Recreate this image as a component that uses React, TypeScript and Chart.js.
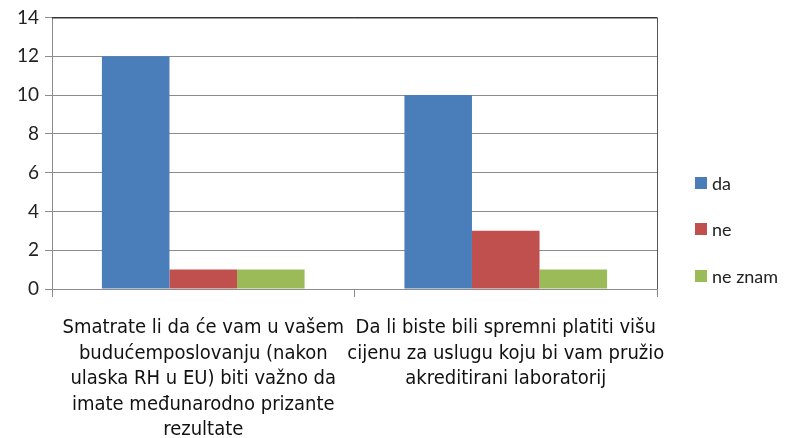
import React, { useEffect, useRef } from "react";
import { Chart, registerables } from "chart.js";

Chart.register(...registerables);

const categories: string[][] = [
  [
    "Smatrate li da će vam u vašem",
    "budućemposlovanju (nakon",
    "ulaska RH u EU) biti važno da",
    "imate međunarodno prizante",
    "rezultate",
  ],
  [
    "Da li biste bili spremni platiti višu",
    "cijenu za uslugu koju bi vam pružio",
    "akreditirani laboratorij",
  ],
];
const seriesNames = ["da", "ne", "ne znam"];
const daValues = [12, 10];
const neValues = [1, 3];
const neZnamValues = [1, 1];
const colors = ["#4A7EBB", "#C0504D", "#9BBB59"];

const frameAndLegend = {
  id: "frameAndLegend",
  afterDraw(chart: any) {
    const { ctx, chartArea } = chart;
    ctx.save();
    ctx.strokeStyle = "#000000";
    ctx.lineWidth = 1;
    ctx.beginPath();
    ctx.moveTo(chartArea.left, chartArea.top + 0.5);
    ctx.lineTo(chartArea.right, chartArea.top + 0.5);
    ctx.stroke();
    ctx.strokeStyle = "#555555";
    ctx.beginPath();
    ctx.moveTo(chartArea.right + 0.5, chartArea.top);
    ctx.lineTo(chartArea.right + 0.5, chartArea.bottom);
    ctx.stroke();
    const ys = [183, 229, 276];
    chart.data.datasets.forEach((ds: any, i: number) => {
      ctx.fillStyle = ds.backgroundColor;
      ctx.fillRect(695, ys[i] - 6, 12, 12);
      ctx.fillStyle = "#222222";
      ctx.font = "18px Lato, 'Open Sans', sans-serif";
      ctx.textBaseline = "middle";
      ctx.textAlign = "left";
      ctx.fillText(ds.label, 712, ys[i] + 1);
    });
    ctx.restore();
  },
};

export default function App() {
  const ref = useRef<HTMLCanvasElement | null>(null);
  useEffect(() => {
    if (!ref.current) return;
    const chart = new Chart(ref.current, {
      type: "bar",
      data: {
        labels: categories,
        datasets: [daValues, neValues, neZnamValues].map((d, i) => ({
          label: seriesNames[i],
          data: d,
          backgroundColor: colors[i],
          borderWidth: 0,
          categoryPercentage: 0.67,
          barPercentage: 1,
        })),
      },
      options: {
        animation: false,
        responsive: false,
        maintainAspectRatio: false,
        layout: { padding: { top: 17, right: 139, left: 0, bottom: 0 } },
        plugins: {
          legend: { display: false },
          tooltip: { enabled: false },
        },
        scales: {
          x: {
            grid: {
              drawOnChartArea: false,
              drawTicks: true,
              tickLength: 8,
              color: "#8c8c8c",
            },
            border: { color: "#8c8c8c" },
            ticks: {
              color: "#111111",
              font: { family: "'Liberation Sans Narrow', 'DejaVu Sans Condensed', sans-serif", size: 20, lineHeight: 1.28 },
              padding: 18,
              maxRotation: 0,
              autoSkip: false,
            },
            afterFit(scale: any) {
              scale.height = 149;
            },
          },
          y: {
            min: 0,
            max: 14,
            ticks: {
              stepSize: 2,
              color: "#222222",
              font: { family: "Lato, 'Open Sans', sans-serif", size: 19 },
              padding: 6,
            },
            grid: {
              color: "#8c8c8c",
              tickLength: 7,
            },
            border: { color: "#8c8c8c" },
            afterFit(scale: any) {
              scale.width = 52;
            },
          },
        },
      },
      plugins: [frameAndLegend],
    });
    return () => chart.destroy();
  }, []);
  return (
    <div style={{ position: "fixed", left: 0, top: 0, width: 796, height: 438, background: "#fff" }}>
      <canvas ref={ref} width={796} height={438} style={{ width: 796, height: 438, display: "block" }} />
    </div>
  );
}
